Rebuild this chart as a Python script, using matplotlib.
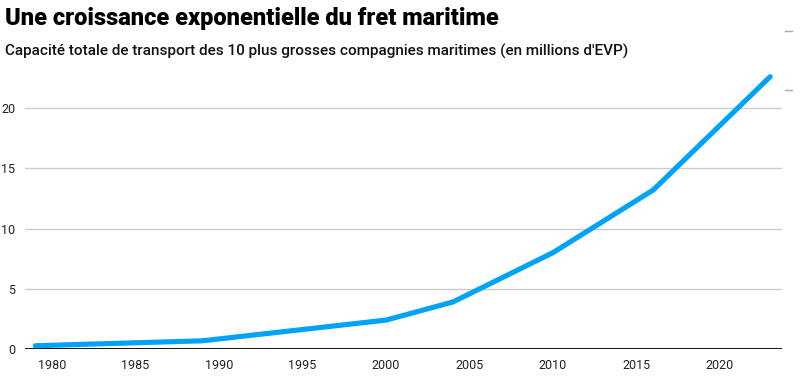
import matplotlib.pyplot as plt
from matplotlib.lines import Line2D

plt.rcParams['font.family'] = ['Roboto', 'DejaVu Sans']

# Capacité totale (millions d'EVP) des 10 plus grosses compagnies
years = [1979, 1989, 2000, 2004, 2010, 2016, 2023]
capacity = [0.27, 0.68, 2.4, 3.9, 8.0, 13.2, 22.6]

xticks = [1980, 1985, 1990, 1995, 2000, 2005, 2010, 2015, 2020]
yticks = [0, 5, 10, 15, 20]

title = "Une croissance exponentielle du fret maritime"
subtitle = "Capacité totale de transport des 10 plus grosses compagnies maritimes (en millions d'EVP)"

W, H = 800, 384
fig = plt.figure(figsize=(8, 3.84), dpi=100)
ax = fig.add_axes([25 / W, 35 / H, (782 - 25) / W, (349 - 74.3) / H])

ax.plot(years, capacity, color='#00a3f7', linewidth=3.7,
        solid_capstyle='round', solid_joinstyle='round', clip_on=False, zorder=3)

ax.set_xlim(1978.38, 2023.71)
ax.set_ylim(0, 22.8)
ax.set_xticks(xticks)
ax.set_yticks(yticks)
ax.tick_params(length=0, labelsize=9, colors='#222222')
ax.tick_params(axis='x', pad=7)
ax.tick_params(axis='y', pad=7)

for y in yticks[1:]:
    ax.axhline(y, color='#cccccc', linewidth=1, zorder=1)
ax.axhline(0, color='black', linewidth=1.3, zorder=2)

for s in ax.spines.values():
    s.set_visible(False)

fig.text(5 / W, 1 - 25 / H, title, fontsize=17, fontweight='black',
         color='black', va='baseline', ha='left')
fig.text(5 / W, 1 - 56 / H, subtitle, fontsize=11, fontweight='medium',
         color='#111111', va='baseline', ha='left')

# petits repères gris sur le bord droit
for yp in [31, 90]:
    fig.add_artist(Line2D([785 / W, 792 / W], [1 - yp / H, 1 - yp / H],
                          color='#aaaaaa', linewidth=1))

fig.savefig('out.png', dpi=100)
